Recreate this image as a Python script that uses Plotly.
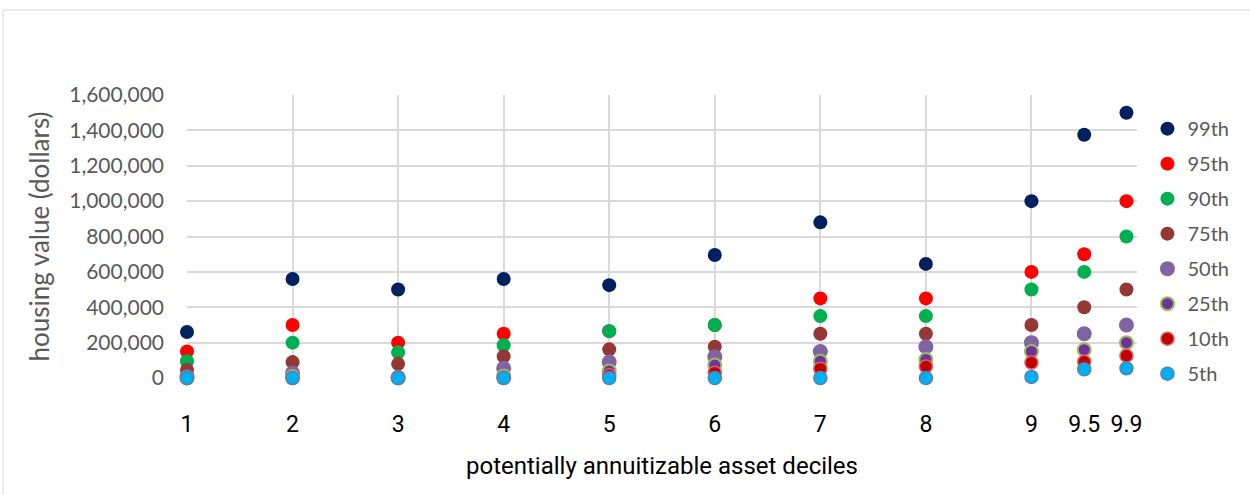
import plotly.graph_objects as go

# asset decile positions and their tick labels
deciles = [1, 2, 3, 4, 5, 6, 7, 8, 9, 9.5, 9.9]
decile_labels = ["1", "2", "3", "4", "5", "6", "7", "8", "9", "9.5", "9.9"]

# housing value percentiles (dollars) within each asset decile
p99 = [260000, 560000, 500000, 560000, 525000, 695000, 880000, 645000, 1000000, 1375000, 1500000]
p95 = [150000, 300000, 200000, 250000, 265000, 300000, 450000, 450000, 600000, 700000, 1000000]
p90 = [95000, 200000, 145000, 185000, 265000, 300000, 350000, 350000, 500000, 600000, 800000]
p75 = [45000, 90000, 80000, 122000, 162000, 177000, 250000, 250000, 300000, 400000, 500000]
p50 = [8000, 28000, 4000, 55000, 90000, 120000, 150000, 177000, 200000, 250000, 300000]
p25 = [0, 8000, 0, 12000, 40000, 73000, 95000, 105000, 150000, 160000, 200000]
p10 = [0, 0, 0, 0, 15000, 30000, 53000, 65000, 87000, 92000, 126000]
p5 = [0, 0, 0, 0, 0, 0, 0, 0, 6000, 49000, 55000]

y_ticks = [0, 200000, 400000, 600000, 800000, 1000000, 1200000, 1400000, 1600000]

series = [
    ("99th", p99, dict(color="#002060", size=14)),
    ("95th", p95, dict(color="#FF0000", size=14)),
    ("90th", p90, dict(color="#00B050", size=14)),
    ("75th", p75, dict(color="#953735", size=14)),
    ("50th", p50, dict(color="#8064A2", size=15)),
    ("25th", p25, dict(color="#7030A0", size=13, line=dict(color="#9BBB59", width=2))),
    ("10th", p10, dict(color="#C00000", size=13, line=dict(color="#E06060", width=1.5))),
    ("5th", p5, dict(color="#00B0F0", size=13, line=dict(color="#4F81BD", width=1.5))),
]

fig = go.Figure()
for i, (name, vals, mk) in enumerate(series):
    fig.add_trace(go.Scatter(
        x=deciles, y=vals, mode="markers", name=name,
        marker=mk, cliponaxis=False, legendgroup=f"g{i}",
    ))

grid = "#D9D9D9"
tick_font = dict(family="Lato, Calibri, sans-serif", size=21, color="#595959")
narrow = "Liberation Sans Narrow, Arial Narrow, Roboto, sans-serif"

fig.update_layout(
    width=1250, height=495,
    margin=dict(l=187, r=113, t=95, b=117),
    paper_bgcolor="white", plot_bgcolor="white",
    showlegend=True,
    legend=dict(
        x=1.011, y=0.95, xanchor="left", yanchor="top",
        font=dict(family="Lato, Calibri, sans-serif", size=20, color="#595959"),
        tracegroupgap=6, itemwidth=30, maxheight=450, borderwidth=0,
        bgcolor="rgba(0,0,0,0)",
    ),
    xaxis=dict(
        range=[1, 10], tickmode="array", tickvals=deciles, ticktext=decile_labels,
        showgrid=False, zeroline=False, showline=False, ticks="",
        ticklabelstandoff=30,
        tickfont=dict(family=narrow, size=23, color="#000000"),
        minor=dict(tick0=1, dtick=1, showgrid=True, gridcolor=grid, gridwidth=1.5),
        title=dict(text="potentially annuitizable asset deciles",
                   font=dict(family=narrow, size=24, color="#000000"), standoff=20),
    ),
    yaxis=dict(
        range=[0, 1600000], tickmode="array", tickvals=y_ticks,
        tickformat=",d", showgrid=True, gridcolor=grid, gridwidth=1.5,
        zeroline=False, showline=False, ticks="", ticklabelstandoff=22,
        tickfont=tick_font,
        title=dict(text="housing value (dollars)",
                   font=dict(family="Lato, Calibri, sans-serif", size=26, color="#595959"),
                   standoff=12),
    ),
    shapes=[dict(type="rect", xref="paper", yref="paper",
                 x0=-0.1937, y0=-0.6, x1=1.25, y1=1.3004,
                 line=dict(color="#D9D9D9", width=1), layer="below")],
)

fig.write_html("out.html")
